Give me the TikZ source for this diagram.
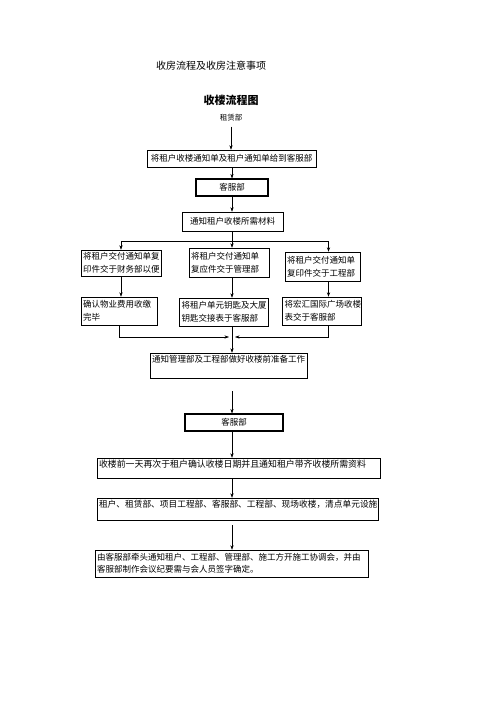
\documentclass[tikz,border=0pt]{standalone}
\usepackage{fontspec}
\newfontfamily\cjk{Noto Sans CJK SC}
\usetikzlibrary{arrows.meta, positioning, calc}

\begin{document}
\begin{tikzpicture}[x=1bp, y=-1bp,
    box/.style={rectangle, draw, line width=0.5pt, inner xsep=2bp, inner ysep=2bp,
                font=\cjk\fontsize{8.5bp}{13bp}\selectfont},
    heavybox/.style={box, line width=1.1pt, minimum height=17bp},
    leftbox/.style={box, align=left, text width=#1},
    flow/.style={-{Stealth[length=4.5bp, width=3.2bp]}, line width=0.5pt},
    caption/.style={font=\cjk\fontsize{#1}{#1}\selectfont, inner sep=0pt}
]
\useasboundingbox[fill=white] (0,0) rectangle (496,702);

% headings
\node[caption=10bp, anchor=west] (doc)   at (156,66)  {收房流程及收房注意事项};
\node[caption=11bp]              (title) at (231,100) {\bfseries 收楼流程图};
\node[caption=7.5bp]             (lease) at (231,118) {租赁部};

\coordinate (axis) at (232,0);
\coordinate (fork) at (232,241);
\coordinate (join) at (232,337);

% main column
\node[box, minimum width=169bp, minimum height=17bp] (notice) at (231.5,158.5) {将租户收楼通知单及租户通知单给到客服部};
\node[heavybox, minimum width=72bp]                  (svc)    at (232,187.5)   {客服部};
\node[box, minimum width=101bp, minimum height=19bp] (docs)   at (232.5,221.5) {通知租户收楼所需材料};

% three branches
\node[leftbox=76bp, minimum height=26bp] (fin)  at (121,263)   {将租户交付通知单复\\印件交于财务部以便};
\node[leftbox=76bp, minimum height=29bp] (mgt)  at (229,262.5) {将租户交付通知单\\复应件交于管理部};
\node[leftbox=71bp, minimum height=29bp] (eng)  at (322.5,266.5) {将租户交付通知单\\复印件交于工程部};
\node[leftbox=72bp, minimum height=28bp] (fee)  at (119,311)   {确认物业费用收缴\\完毕};
\node[leftbox=85bp, minimum height=28bp] (keys) at (224,312)   {将租户单元钥匙及大厦\\钥匙交接表于客服部};
\node[leftbox=75bp, minimum height=28bp] (form) at (322,311)   {将宏汇国际广场收楼\\表交于客服部};

% lower column
\node[box, align=left, text width=153bp, text height=7bp, text depth=14bp] (prep) at (228.5,365.5) {通知管理部及工程部做好收楼前准备工作};
\node[heavybox, minimum width=98bp] (svc2) at (234,422.5) {客服部};
\node[box, align=left, text width=279bp, text height=7bp, text depth=9bp,
      font=\cjk\fontsize{8.9bp}{13bp}\selectfont] (confirm) at (238.5,468) {收楼前一天再次于租户确认收楼日期并且通知租户带齐收楼所需资料};
\node[box, align=left, text width=277bp, text height=7bp, text depth=11bp,
      font=\cjk\fontsize{8.7bp}{13bp}\selectfont] (inspect) at (237.5,509) {租户、租赁部、项目工程部、客服部、工程部、现场收楼，清点单元设施};
\node[leftbox=269bp, minimum height=27bp,
      font=\cjk\fontsize{8.5bp}{11.5bp}\selectfont] (meet) at (231.5,563.5) {由客服部牵头通知租户、工程部、管理部、施工方开施工协调会，并由\\客服部制作会议纪要需与会人员签字确定。};

% connectors
\draw[flow, shorten <=5bp] (lease.south) -- (lease.south |- notice.north);
\draw[flow] (notice.south -| axis) -- (svc.north -| axis);
\draw[flow] (svc.south -| axis) -- (docs.north -| axis);
\draw (docs.south -| axis) -- (fork);
\draw[flow] (fork) -| (fin.north);
\draw[flow] (fork) -- (fork |- mgt.north);
\draw[flow] (fork) -| ([xshift=6bp]eng.north);
\draw[flow] (fin.south) -- (fin.south |- fee.north);
\draw[flow] (mgt.south -| axis) -- (keys.north -| axis);
\draw[flow] ([xshift=6bp]eng.south) -- ([xshift=6bp]eng.south |- form.north);
\draw[flow] (fee.south) |- ([xshift=-3bp]join);
\draw[flow] ([xshift=6bp]eng.south |- form.south) |- ([xshift=3bp]join);
\draw[flow] (keys.south -| axis) -- (prep.north -| axis);
\draw[flow, shorten <=13bp] (prep.south -| axis) -- (svc2.north -| axis);
\draw[flow] (svc2.south -| axis) -- (confirm.north -| axis);
\draw[flow] (confirm.south -| axis) -- (inspect.north -| axis);
\draw[flow, shorten <=5bp] (inspect.south -| axis) -- (meet.north -| axis);
\end{tikzpicture}
\end{document}
